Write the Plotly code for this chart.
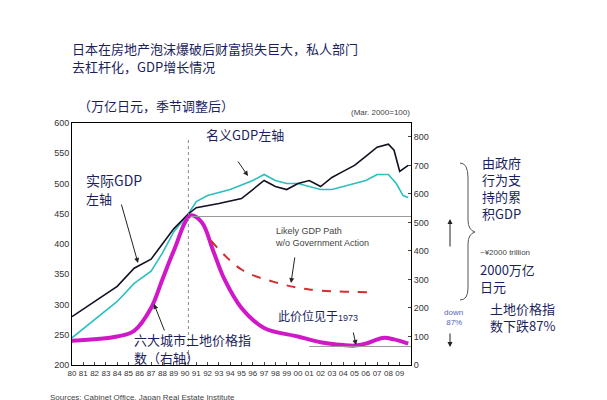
import plotly.graph_objects as go

real_x = [1980,1982,1984,1985.5,1987,1988,1989,1990.3,1991,1993,1995,1996,1997,1998,1999,2000,2001,2002,2003,2004,2005,2006,2007,2008,2008.5,2009,2009.75]
real_y = [280,305,330,360,375,400,425,450,460,467,475,490,505,495,490,500,505,495,510,520,530,545,560,565,555,520,530]
nom_x = [1980,1982,1984,1985.5,1987,1988,1989,1990.3,1991,1992,1994,1996,1997,1998,1999,2000,2001,2002,2003,2004,2005,2006,2007,2008,2008.7,2009.3,2009.75]
nom_y = [245,275,305,335,355,385,420,450,470,480,490,505,515,505,500,500,495,490,490,495,500,505,515,515,500,480,477]
land_x = [1980,1984,1985.5,1987,1988,1989,1990.5,1991.5,1992.5,1993.5,1995,1997,2000,2002,2004,2005,2006,2007.5,2008.5,2009.75]
land_y = [85,100,120,200,300,400,525,500,400,300,200,130,100,80,70,68,75,95,90,75]
path_x = [1992.3,1995,1998,2001,2006.3]
path_y = [436,335,290,265,255]
years = list(range(1980, 2010))
year_labels = [f"{y%100:02d}" for y in years]

NAVY = "#1c1f5e"
CJK = "Noto Sans CJK SC"
fig = go.Figure()
fig.add_trace(go.Scatter(x=land_x, y=land_y, yaxis="y2", mode="lines", line=dict(color="#d018c8", width=4, shape="spline")))
fig.add_trace(go.Scatter(x=path_x, y=path_y, yaxis="y2", mode="lines", line=dict(color="#d03030", width=2, dash="dash", shape="spline")))
fig.add_trace(go.Scatter(x=nom_x, y=nom_y, mode="lines", line=dict(color="#2bbfbf", width=1.6)))
fig.add_trace(go.Scatter(x=real_x, y=real_y, mode="lines", line=dict(color="#111122", width=1.6)))

fig.update_layout(
    width=607, height=400, showlegend=False, plot_bgcolor="white", paper_bgcolor="white",
    margin=dict(l=64, r=204, t=115, b=43),
    font=dict(family="Liberation Sans", size=9, color="#333"),
    xaxis=dict(range=[1980, 2010], tickvals=years, ticktext=year_labels, tickangle=0,
               showgrid=False, showline=True, linecolor="black", mirror=True, ticks="inside",
               ticklen=3, tickfont=dict(size=8)),
    yaxis=dict(range=[200, 600], dtick=50, showgrid=False, showline=True, linecolor="black", ticks="", tickfont=dict(size=9)),
    yaxis2=dict(range=[0, 849], tickvals=list(range(0, 900, 100)), overlaying="y", side="right", showgrid=False,
                showline=True, linecolor="black", ticks="inside", ticklen=3, tickfont=dict(size=9)),
)

W, H = 339, 242
def px(xp): return (xp - 64) / W
def py(yp): return (357 - yp) / H

bx = px(460); bx2 = px(452); bm = px(467)
brace = (f"M {bx2},{py(155)} Q {bx},{py(155)} {bx},{py(170)} L {bx},{py(212)} "
         f"Q {bx},{py(222)} {bm},{py(224)} Q {bx},{py(226)} {bx},{py(236)} "
         f"L {bx},{py(280)} Q {bx},{py(292)} {bx2},{py(292)}")
shapes = [
    dict(type="line", xref="x", yref="paper", x0=1990.3, x1=1990.3, y0=0, y1=0.94, line=dict(color="#888", width=1, dash="dot")),
    dict(type="line", xref="x", yref="y2", x0=1990.5, x1=2014.6, y0=521, y1=521, line=dict(color="#999", width=1)),
    dict(type="line", xref="x", yref="y2", x0=2001, x1=2014.6, y0=65, y1=65, line=dict(color="#999", width=1)),
    dict(type="path", xref="paper", yref="paper", path=brace, line=dict(color="#555", width=1)),
]
fig.update_layout(shapes=shapes)

def txt(x, y, s, size=12, color=NAVY, xanchor="left", family=CJK):
    fig.add_annotation(x=px(x), y=py(y), xref="paper", yref="paper", text=s, showarrow=False,
                       font=dict(size=size, color=color, family=family), xanchor=xanchor, yanchor="middle", align="left")

txt(62, 40, "日本在房地产泡沫爆破后财富损失巨大，私人部门", 13)
txt(62, 58, "去杠杆化，GDP增长情况", 13)
txt(68, 97, "（万亿日元，季节调整后）", 13)
txt(404, 104, "(Mar. 2000=100)", 8, "#444", "right", "Liberation Sans")
txt(196, 127, "名义GDP左轴", 13)
txt(76, 172, "实际GDP", 14)
txt(76, 190, "左轴", 13)
txt(124, 331, "六大城市土地价格指", 13)
txt(124, 349, "数（右轴）", 13)
txt(268, 307, "此价位见于<span style='font-family:Liberation Sans;font-size:9px'>1973</span>", 12)
txt(314, 229, "Likely GDP Path<br>w/o Government Action", 9, "#444", "center", "Liberation Sans")
txt(472, 180, "由政府<br>行为支<br>持的累<br>积GDP", 13)
txt(470, 244, "~¥2000 trillion", 8, "#444", "left", "Liberation Sans")
txt(470, 270, "2000万亿<br>日元", 13)
txt(446, 309, "down<br> 87%", 8, "#5566bb", "center", "Liberation Sans")
txt(480, 309, "土地价格指<br>数下跌87%", 13)
txt(40, 389, "Sources: Cabinet Office, Japan Real Estate Institute", 8, "#444", "left", "Liberation Sans")

def arrow(x, y, ax, ay, color="#222"):
    fig.add_annotation(x=px(x), y=py(y), xref="paper", yref="paper", ax=ax - x, ay=ay - y,
                       showarrow=True, arrowhead=2, arrowsize=1, arrowwidth=1, arrowcolor=color, text="")
arrow(240, 168, 229, 152)
arrow(130, 255, 113, 195)
arrow(146, 296, 157, 324)
arrow(283, 275, 287, 248)
arrow(348, 337, 345, 323)
arrow(442, 211, 442, 240)
arrow(442, 339, 442, 324)

fig.write_html("out.html")
